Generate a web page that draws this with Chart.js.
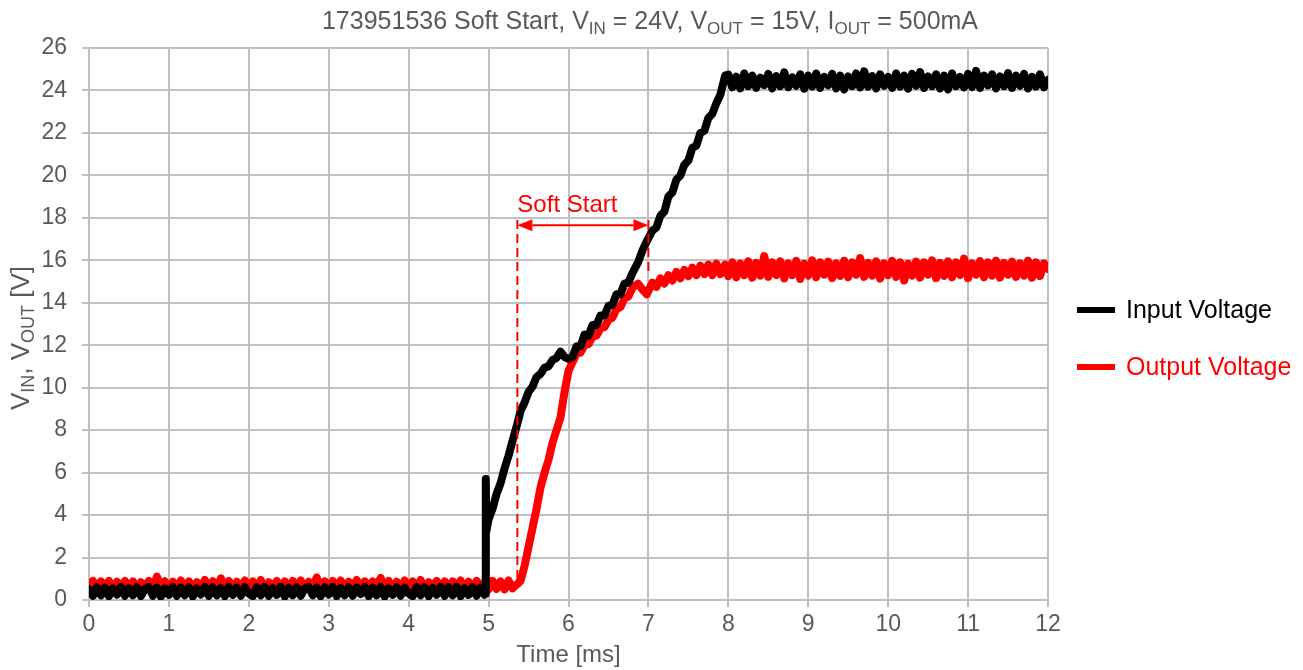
<!DOCTYPE html>
<html>
<head>
<meta charset="utf-8">
<script src="https://cdn.jsdelivr.net/npm/chart.js@4.4.1/dist/chart.umd.min.js"></script>
<style>
  html, body { margin: 0; padding: 0; background: #ffffff; }
  #c { display: block; }
</style>
</head>
<body>
<canvas id="c" width="1303" height="670"></canvas>
<script>
// Sample times [ms]: idle, start-up and steady state
const idleTime = [
  0.00, 0.05, 0.10, 0.15, 0.20, 0.25, 0.30, 0.35, 0.40, 0.45,
  0.50, 0.55, 0.60, 0.65, 0.70, 0.75, 0.80, 0.85, 0.90, 0.95,
  1.00, 1.05, 1.10, 1.15, 1.20, 1.25, 1.30, 1.35, 1.40, 1.45,
  1.50, 1.55, 1.60, 1.65, 1.70, 1.75, 1.80, 1.85, 1.90, 1.95,
  2.00, 2.05, 2.10, 2.15, 2.20, 2.25, 2.30, 2.35, 2.40, 2.45,
  2.50, 2.55, 2.60, 2.65, 2.70, 2.75, 2.80, 2.85, 2.90, 2.95,
  3.00, 3.05, 3.10, 3.15, 3.20, 3.25, 3.30, 3.35, 3.40, 3.45,
  3.50, 3.55, 3.60, 3.65, 3.70, 3.75, 3.80, 3.85, 3.90, 3.95,
  4.00, 4.05, 4.10, 4.15, 4.20, 4.25, 4.30, 4.35, 4.40, 4.45,
  4.50, 4.55, 4.60, 4.65, 4.70, 4.75, 4.80, 4.85, 4.90, 4.95
];
const startTime = [
  4.96, 4.965, 4.97,
  5.00, 5.05, 5.10, 5.15, 5.20, 5.25, 5.30,
  5.36,
  5.40, 5.45, 5.50, 5.55, 5.60, 5.65, 5.70, 5.75, 5.80, 5.85,
  5.90, 5.95, 6.00, 6.05, 6.10, 6.15, 6.20, 6.25, 6.30, 6.35,
  6.40, 6.45, 6.50, 6.55, 6.60, 6.65, 6.70, 6.75, 6.80,
  6.87, 6.93, 6.98,
  7.05, 7.10, 7.15, 7.20, 7.25, 7.30, 7.35, 7.40, 7.45, 7.50,
  7.55, 7.60, 7.65, 7.70, 7.75, 7.80, 7.85, 7.90,
  7.96
];
const steadyTime = [
  8.00, 8.05, 8.10, 8.15, 8.20, 8.25, 8.30, 8.35, 8.40, 8.45,
  8.50, 8.55, 8.60, 8.65, 8.70, 8.75, 8.80, 8.85, 8.90, 8.95,
  9.00, 9.05, 9.10, 9.15, 9.20, 9.25, 9.30, 9.35, 9.40, 9.45,
  9.50, 9.55, 9.60, 9.65, 9.70, 9.75, 9.80, 9.85, 9.90, 9.95,
  10.00, 10.05, 10.10, 10.15, 10.20, 10.25, 10.30, 10.35, 10.40, 10.45,
  10.50, 10.55, 10.60, 10.65, 10.70, 10.75, 10.80, 10.85, 10.90, 10.95,
  11.00, 11.05, 11.10, 11.15, 11.20, 11.25, 11.30, 11.35, 11.40, 11.45,
  11.50, 11.55, 11.60, 11.65, 11.70, 11.75, 11.80, 11.85, 11.90, 11.95,
  12.00
];

// Input voltage [V]
const inputIdle = [
  0.50, 0.20, 0.60, 0.22, 0.58, 0.18, 0.55, 0.25, 0.62, 0.20,
  0.56, 0.22, 0.60, 0.18, 0.52, 0.62, 0.20, 0.58, 0.16, 0.55,
  0.24, 0.62, 0.20, 0.58, 0.22, 0.60, 0.17, 0.54, 0.26, 0.62,
  0.20, 0.60, 0.22, 0.56, 0.18, 0.62, 0.24, 0.58, 0.20, 0.60,
  0.30, 0.18, 0.60, 0.22, 0.62, 0.20, 0.56, 0.24, 0.62, 0.16,
  0.58, 0.22, 0.60, 0.20, 0.54, 0.62, 0.22, 0.58, 0.18, 0.60,
  0.26, 0.62, 0.18, 0.56, 0.22, 0.60, 0.20, 0.58, 0.28, 0.62,
  0.18, 0.58, 0.22, 0.62, 0.16, 0.55, 0.24, 0.60, 0.20, 0.58,
  0.30, 0.18, 0.62, 0.22, 0.60, 0.18, 0.57, 0.25, 0.62, 0.20,
  0.60, 0.22, 0.62, 0.18, 0.56, 0.24, 0.60, 0.20, 0.58, 0.25
];
const inputStart = [
  0.30, 5.70, 3.20,
  3.80, 4.30, 5.00, 5.50, 6.20, 6.80, 7.50,
  8.30,
  8.90, 9.30, 9.80, 10.05, 10.50, 10.65, 10.95, 11.00, 11.30, 11.40,
  11.70, 11.45, 11.35, 11.45, 11.95, 11.95, 12.50, 12.45, 12.95, 12.95,
  13.40, 13.40, 13.85, 13.90, 14.40, 14.40, 14.90, 14.95, 15.40,
  15.90, 16.50, 16.90,
  17.40, 17.55, 18.10, 18.30, 19.00, 19.20, 19.80, 20.00, 20.50, 20.70,
  21.30, 21.40, 22.00, 22.10, 22.70, 22.90, 23.40, 23.80,
  24.70
];
const inputSteady = [
  24.75, 24.15, 24.65, 24.10, 24.80, 24.20, 24.70, 24.12, 24.60, 24.25,
  24.78, 24.10, 24.68, 24.20, 24.85, 24.15, 24.62, 24.22, 24.76, 24.08,
  24.70, 24.18, 24.80, 24.12, 24.64, 24.24, 24.78, 24.10, 24.70, 24.05,
  24.66, 24.20, 24.80, 24.14, 24.90, 24.18, 24.68, 24.10, 24.76, 24.22,
  24.64, 24.12, 24.80, 24.18, 24.70, 24.08, 24.78, 24.22, 24.86, 24.12,
  24.66, 24.20, 24.76, 24.10, 24.70, 24.05, 24.80, 24.20, 24.64, 24.14,
  24.78, 24.16, 24.92, 24.12, 24.70, 24.24, 24.76, 24.10, 24.66, 24.20,
  24.82, 24.12, 24.70, 24.22, 24.78, 24.10, 24.64, 24.18, 24.76, 24.15,
  24.50
];

// Output voltage [V]
const outputIdle = [
  0.72, 0.90, 0.52, 0.88, 0.55, 0.90, 0.50, 0.86, 0.62, 0.90,
  0.54, 0.88, 0.50, 0.84, 0.60, 0.90, 0.55, 1.10, 0.58, 0.88,
  0.50, 0.86, 0.60, 0.92, 0.54, 0.88, 0.48, 0.84, 0.62, 0.94,
  0.55, 0.88, 0.50, 1.02, 0.56, 0.90, 0.50, 0.86, 0.60, 0.92,
  0.52, 0.88, 0.56, 0.94, 0.50, 0.84, 0.62, 0.90, 0.54, 0.88,
  0.50, 0.90, 0.58, 0.92, 0.52, 0.86, 0.62, 1.06, 0.54, 0.88,
  0.50, 0.90, 0.56, 0.92, 0.52, 0.86, 0.60, 0.94, 0.54, 0.88,
  0.48, 0.88, 0.62, 1.04, 0.54, 0.90, 0.50, 0.86, 0.58, 0.92,
  0.52, 0.88, 0.56, 0.94, 0.50, 0.84, 0.62, 0.90, 0.54, 0.88,
  0.52, 0.88, 0.58, 0.92, 0.52, 0.86, 0.60, 0.90, 0.54, 0.86
];
const outputStart = [
  0.65, 0.55, 0.75,
  0.50, 0.90, 0.52, 0.88, 0.50, 0.92, 0.55,
  0.75,
  0.90, 1.60, 2.50, 3.40, 4.30, 5.30, 6.00, 6.60, 7.40, 8.00,
  8.60, 9.80, 10.80, 11.20, 11.60, 11.65, 12.00, 12.05, 12.40, 12.45,
  12.80, 12.85, 13.20, 13.30, 13.70, 13.80, 14.20, 14.30, 14.70,
  14.90, 14.60, 14.40,
  14.95, 14.75, 15.15, 14.90, 15.30, 15.05, 15.45, 15.15, 15.55, 15.25,
  15.65, 15.30, 15.75, 15.35, 15.80, 15.30, 15.85, 15.35,
  15.80
];
const outputSteady = [
  15.25, 15.90, 15.20, 15.85, 15.30, 15.95, 15.18, 15.88, 15.28, 16.20,
  15.22, 15.90, 15.30, 15.95, 15.15, 15.86, 15.30, 15.98, 15.12, 15.84,
  15.28, 16.00, 15.20, 15.90, 15.32, 15.94, 15.16, 15.86, 15.26, 15.98,
  15.20, 15.90, 15.32, 16.10, 15.22, 15.88, 15.28, 15.95, 15.14, 15.86,
  15.30, 15.98, 15.22, 15.90, 15.05, 15.84, 15.28, 15.94, 15.18, 15.90,
  15.32, 16.00, 15.16, 15.88, 15.26, 15.95, 15.20, 15.90, 15.30, 16.08,
  15.16, 15.86, 15.32, 15.96, 15.20, 15.90, 15.28, 15.98, 15.18, 15.88,
  15.32, 15.94, 15.22, 15.86, 15.28, 15.98, 15.18, 15.90, 15.26, 15.86,
  15.60
];

const seriesNames = ['Input Voltage', 'Output Voltage'];
const seriesColors = ['#000000', '#ff0000'];

// Soft-start interval marker [ms] and its vertical extents [V]
const softStartBegin = 5.36;
const softStartEnd = 7.0;
const softStartArrowLevel = 17.65;
const softStartLineTop = 17.9;
const softStartBeginFloor = 0.9;
const softStartEndFloor = 15.4;

const FONT = '"Liberation Sans", Arial, Helvetica, sans-serif';
const GREY_TEXT = '#595959';

const allTime = idleTime.concat(startTime, steadyTime);
function toPoints(idle, start, steady) {
  const v = idle.concat(start, steady);
  return allTime.map((t, i) => ({ x: t, y: v[i] }));
}

// Draws a run of text pieces, some of them as subscripts, centred on x.
function drawRich(ctx, parts, x, y, size, subSize, subDrop, color) {
  const fontMain = size + 'px ' + FONT;
  const fontSub = subSize + 'px ' + FONT;
  let total = 0;
  parts.forEach(p => {
    ctx.font = p[1] ? fontSub : fontMain;
    total += ctx.measureText(p[0]).width;
  });
  let cx = x - total / 2;
  ctx.fillStyle = color;
  ctx.textAlign = 'left';
  ctx.textBaseline = 'alphabetic';
  parts.forEach(p => {
    ctx.font = p[1] ? fontSub : fontMain;
    ctx.fillText(p[0], cx, p[1] ? y + subDrop : y);
    cx += ctx.measureText(p[0]).width;
  });
}

const decorations = {
  id: 'decorations',
  afterDatasetsDraw(chart) {
    const ctx = chart.ctx;
    const xs = chart.scales.x, ys = chart.scales.y;
    const x1 = xs.getPixelForValue(softStartBegin);
    const x2 = xs.getPixelForValue(softStartEnd);
    const yArrow = ys.getPixelForValue(softStartArrowLevel);
    const yTop = ys.getPixelForValue(softStartLineTop);
    ctx.save();
    ctx.strokeStyle = '#ff0000';
    ctx.fillStyle = '#ff0000';
    ctx.lineWidth = 2;
    // dashed bounds of the interval
    ctx.setLineDash([9, 5]);
    ctx.beginPath();
    ctx.moveTo(x1, yTop);
    ctx.lineTo(x1, ys.getPixelForValue(softStartBeginFloor));
    ctx.moveTo(x2, yTop);
    ctx.lineTo(x2, ys.getPixelForValue(softStartEndFloor));
    ctx.stroke();
    // double-headed arrow
    ctx.setLineDash([]);
    const head = 15, half = 6;
    ctx.beginPath();
    ctx.moveTo(x1 + head, yArrow);
    ctx.lineTo(x2 - head, yArrow);
    ctx.stroke();
    ctx.beginPath();
    ctx.moveTo(x1, yArrow);
    ctx.lineTo(x1 + head, yArrow - half);
    ctx.lineTo(x1 + head, yArrow + half);
    ctx.closePath();
    ctx.fill();
    ctx.beginPath();
    ctx.moveTo(x2, yArrow);
    ctx.lineTo(x2 - head, yArrow - half);
    ctx.lineTo(x2 - head, yArrow + half);
    ctx.closePath();
    ctx.fill();
    ctx.font = '24px ' + FONT;
    ctx.textAlign = 'left';
    ctx.textBaseline = 'alphabetic';
    ctx.fillText('Soft Start', x1, yArrow - 13);
    ctx.restore();
  },
  afterDraw(chart) {
    const ctx = chart.ctx;
    ctx.save();
    // chart title
    drawRich(ctx, [
      ['173951536 Soft Start, V', false], ['IN', true],
      [' = 24V, V', false], ['OUT', true],
      [' = 15V, I', false], ['OUT', true],
      [' = 500mA', false]
    ], 650, 29, 25, 17, 5, GREY_TEXT);

    // y-axis title, rotated
    ctx.save();
    ctx.translate(29, 338);
    ctx.rotate(-Math.PI / 2);
    drawRich(ctx, [
      ['V', false], ['IN', true], [', V', false], ['OUT', true], [' [V]', false]
    ], 0, 0, 26, 18, 5, GREY_TEXT);
    ctx.restore();

    // legend
    const legendRows = [310, 367];
    seriesNames.forEach((name, i) => {
      const y = legendRows[i];
      ctx.strokeStyle = seriesColors[i];
      ctx.lineWidth = 6;
      ctx.beginPath();
      ctx.moveTo(1077, y);
      ctx.lineTo(1115, y);
      ctx.stroke();
      ctx.fillStyle = seriesColors[i];
      ctx.font = '25px ' + FONT;
      ctx.textAlign = 'left';
      ctx.textBaseline = 'middle';
      ctx.fillText(name, 1126, y + 1);
    });
    ctx.restore();
  }
};

const gridColor = '#c0c0c0';

function traceStyle(i, values) {
  return {
    label: seriesNames[i],
    data: values,
    borderColor: seriesColors[i],
    borderWidth: 8,
    pointRadius: 0,
    tension: 0,
    borderJoinStyle: 'round',
    borderCapStyle: 'round'
  };
}

new Chart(document.getElementById('c'), {
  type: 'line',
  data: {
    datasets: [
      traceStyle(0, toPoints(inputIdle, inputStart, inputSteady)),
      traceStyle(1, toPoints(outputIdle, outputStart, outputSteady))
    ]
  },
  options: {
    responsive: false,
    animation: false,
    devicePixelRatio: 1,
    layout: { padding: { top: 48, right: 255, bottom: 0, left: 0 } },
    plugins: {
      legend: { display: false },
      title: { display: false },
      tooltip: { enabled: false }
    },
    scales: {
      x: {
        type: 'linear',
        min: 0,
        max: 12,
        ticks: {
          stepSize: 1,
          color: GREY_TEXT,
          font: { family: FONT, size: 23 },
          padding: 4
        },
        grid: { color: gridColor, lineWidth: 2, tickLength: 7, tickColor: gridColor },
        border: { color: gridColor, width: 2 },
        title: {
          display: true,
          text: 'Time [ms]',
          color: GREY_TEXT,
          font: { family: FONT, size: 24 },
          padding: { top: 0, bottom: 0 }
        },
        afterFit(scale) { scale.height = 70; }
      },
      y: {
        min: 0,
        max: 26,
        ticks: {
          stepSize: 2,
          color: GREY_TEXT,
          font: { family: FONT, size: 23 },
          padding: 15
        },
        grid: { color: gridColor, lineWidth: 2, tickLength: 7, tickColor: gridColor },
        border: { color: gridColor, width: 2 },
        afterFit(scale) { scale.width = 89; }
      }
    }
  },
  plugins: [decorations]
});
</script>
</body>
</html>
